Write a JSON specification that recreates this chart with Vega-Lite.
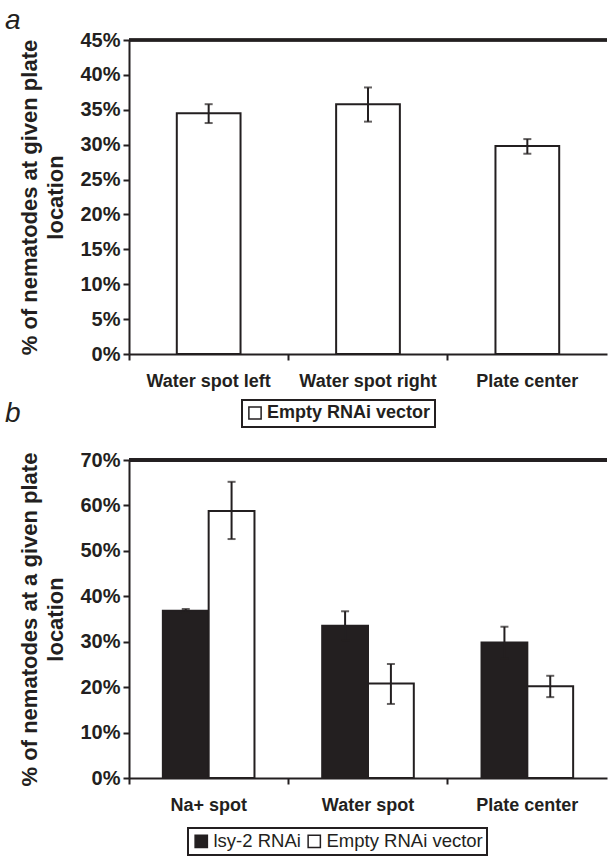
{
  "$schema": "https://vega.github.io/schema/vega-lite/v6.json",
  "padding": {"left": 4, "top": 7, "right": 0, "bottom": 0},
  "background": "white",
  "spacing": -28,
  "resolve": {"scale": {"x": "independent", "y": "independent", "fill": "independent", "xOffset": "independent"}, "legend": {"fill": "independent"}, "axis": {"x": "independent", "y": "independent"}},
  "config": {
    "font": "Liberation Sans",
    "view": {"stroke": null},
    "axis": {
      "domainColor": "#231f20", "domainWidth": 2, "tickColor": "#231f20", "tickWidth": 2, "tickSize": 6,
      "labelFont": "Liberation Sans", "labelFontWeight": "bold", "labelFontSize": 18, "labelColor": "#231f20",
      "titleFont": "Liberation Sans", "titleFontWeight": "bold", "titleFontSize": 22, "titleColor": "#231f20",
      "grid": false, "labelOverlap": false
    },
    "axisY": {"labelFontSize": 20, "titleLineHeight": 26, "titlePadding": 12, "labelPadding": 3},
    "legend": {
      "strokeColor": "#231f20", "strokeWidth": 2, "padding": 4, "symbolType": "square", "symbolSize": 150,
      "symbolStrokeColor": "#231f20", "symbolStrokeWidth": 1.5, "labelColor": "#231f20", "labelFont": "Liberation Sans",
      "direction": "horizontal", "orient": "none", "title": null, "columnPadding": 4, "labelOffset": 3, "labelLimit": 400
    },
    "title": {"font": "Liberation Sans", "fontStyle": "italic", "fontWeight": "normal", "fontSize": 28, "color": "#231f20", "anchor": "start", "frame": "bounds"}
  },
  "vconcat": [
    {
      "title": {"text": "a", "dx": -14, "offset": -5},
      "width": 478,
      "height": 314,
      "data": {"values": [
        {"loc": "Water spot left", "v": 34.5, "lo": 33.1, "hi": 35.8, "grp": "Empty RNAi vector"},
        {"loc": "Water spot right", "v": 35.8, "lo": 33.3, "hi": 38.2, "grp": "Empty RNAi vector"},
        {"loc": "Plate center", "v": 29.8, "lo": 28.7, "hi": 30.8, "grp": "Empty RNAi vector"}
      ]},
      "layer": [
        {"mark": {"type": "bar", "width": {"band": 0.4}, "stroke": "#231f20", "strokeWidth": 2},
          "encoding": {
            "x": {"field": "loc", "type": "nominal", "sort": null, "title": null,
              "scale": {"paddingInner": 0, "paddingOuter": 0},
              "axis": {"labelAngle": 0, "bandPosition": 0, "labelPadding": 12}},
            "y": {"field": "v", "type": "quantitative", "scale": {"domain": [0, 45], "nice": false},
              "title": ["% of nematodes at given plate", "location"],
              "axis": {"values": [0, 5, 10, 15, 20, 25, 30, 35, 40, 45], "labelExpr": "datum.value + '%'"}},
            "fill": {"field": "grp", "type": "nominal", "scale": {"domain": ["Empty RNAi vector"], "range": ["#ffffff"]},
              "legend": {"legendX": 113, "legendY": 360, "labelFontWeight": "bold", "labelFontSize": 18}}
          }},
        {"mark": {"type": "rule", "color": "#231f20", "strokeWidth": 3},
          "encoding": {"y": {"datum": 45, "type": "quantitative", "axis": {"values": [0, 5, 10, 15, 20, 25, 30, 35, 40, 45], "labelExpr": "datum.value + '%'"}}}},
        {"mark": {"type": "rule", "color": "#231f20", "strokeWidth": 2},
          "encoding": {"x": {"field": "loc", "type": "nominal", "sort": null}, "y": {"field": "lo", "type": "quantitative", "axis": {"values": [0, 5, 10, 15, 20, 25, 30, 35, 40, 45], "labelExpr": "datum.value + '%'"}}, "y2": {"field": "hi"}}},
        {"mark": {"type": "tick", "color": "#231f20", "size": 8, "thickness": 2},
          "encoding": {"x": {"field": "loc", "type": "nominal", "sort": null}, "y": {"field": "hi", "type": "quantitative", "axis": {"values": [0, 5, 10, 15, 20, 25, 30, 35, 40, 45], "labelExpr": "datum.value + '%'"}}}},
        {"mark": {"type": "tick", "color": "#231f20", "size": 8, "thickness": 2},
          "encoding": {"x": {"field": "loc", "type": "nominal", "sort": null}, "y": {"field": "lo", "type": "quantitative", "axis": {"values": [0, 5, 10, 15, 20, 25, 30, 35, 40, 45], "labelExpr": "datum.value + '%'"}}}}
      ]
    },
    {
      "title": {"text": "b", "dx": -14, "offset": 22},
      "width": 478,
      "height": 318,
      "data": {"values": [
        {"loc": "Na+ spot", "grp": "lsy-2 RNAi", "v": 36.8, "lo": 36.4, "hi": 37.2},
        {"loc": "Na+ spot", "grp": "Empty RNAi vector", "v": 58.8, "lo": 52.6, "hi": 65.2},
        {"loc": "Water spot", "grp": "lsy-2 RNAi", "v": 33.5, "lo": 30.3, "hi": 36.7},
        {"loc": "Water spot", "grp": "Empty RNAi vector", "v": 20.8, "lo": 16.3, "hi": 25.1},
        {"loc": "Plate center", "grp": "lsy-2 RNAi", "v": 29.8, "lo": 26.3, "hi": 33.3},
        {"loc": "Plate center", "grp": "Empty RNAi vector", "v": 20.2, "lo": 17.8, "hi": 22.5}
      ]},
      "layer": [
        {"mark": {"type": "bar", "stroke": "#231f20", "strokeWidth": 2},
          "encoding": {
            "x": {"field": "loc", "type": "nominal", "sort": null, "title": null,
              "scale": {"paddingInner": 0, "paddingOuter": 0},
              "axis": {"labelAngle": 0, "bandPosition": 0, "labelPadding": 12}},
            "xOffset": {"field": "grp", "type": "nominal", "sort": ["lsy-2 RNAi", "Empty RNAi vector"],
              "scale": {"domain": ["lsy-2 RNAi", "Empty RNAi vector"], "paddingInner": 0, "paddingOuter": 0.739}},
            "y": {"field": "v", "type": "quantitative", "scale": {"domain": [0, 70], "nice": false},
              "title": ["% of nematodes at a given plate", "location"],
              "axis": {"values": [0, 10, 20, 30, 40, 50, 60, 70], "labelExpr": "datum.value + '%'"}},
            "fill": {"field": "grp", "type": "nominal", "scale": {"domain": ["lsy-2 RNAi", "Empty RNAi vector"], "range": ["#231f20", "#ffffff"]},
              "legend": {"legendX": 59, "legendY": 368, "labelFontWeight": "normal", "labelFontSize": 18.5}}
          }},
        {"mark": {"type": "rule", "color": "#231f20", "strokeWidth": 3},
          "encoding": {"y": {"datum": 70, "type": "quantitative", "axis": {"values": [0, 10, 20, 30, 40, 50, 60, 70], "labelExpr": "datum.value + '%'"}}}},
        {"mark": {"type": "rule", "color": "#231f20", "strokeWidth": 2},
          "encoding": {"x": {"field": "loc", "type": "nominal", "sort": null}, "xOffset": {"field": "grp", "type": "nominal", "sort": ["lsy-2 RNAi", "Empty RNAi vector"]}, "y": {"field": "lo", "type": "quantitative", "axis": {"values": [0, 10, 20, 30, 40, 50, 60, 70], "labelExpr": "datum.value + '%'"}}, "y2": {"field": "hi"}}},
        {"mark": {"type": "tick", "color": "#231f20", "size": 8, "thickness": 2},
          "encoding": {"x": {"field": "loc", "type": "nominal", "sort": null}, "xOffset": {"field": "grp", "type": "nominal", "sort": ["lsy-2 RNAi", "Empty RNAi vector"]}, "y": {"field": "hi", "type": "quantitative", "axis": {"values": [0, 10, 20, 30, 40, 50, 60, 70], "labelExpr": "datum.value + '%'"}}}},
        {"mark": {"type": "tick", "color": "#231f20", "size": 8, "thickness": 2},
          "encoding": {"x": {"field": "loc", "type": "nominal", "sort": null}, "xOffset": {"field": "grp", "type": "nominal", "sort": ["lsy-2 RNAi", "Empty RNAi vector"]}, "y": {"field": "lo", "type": "quantitative", "axis": {"values": [0, 10, 20, 30, 40, 50, 60, 70], "labelExpr": "datum.value + '%'"}}}}
      ]
    }
  ]
}
